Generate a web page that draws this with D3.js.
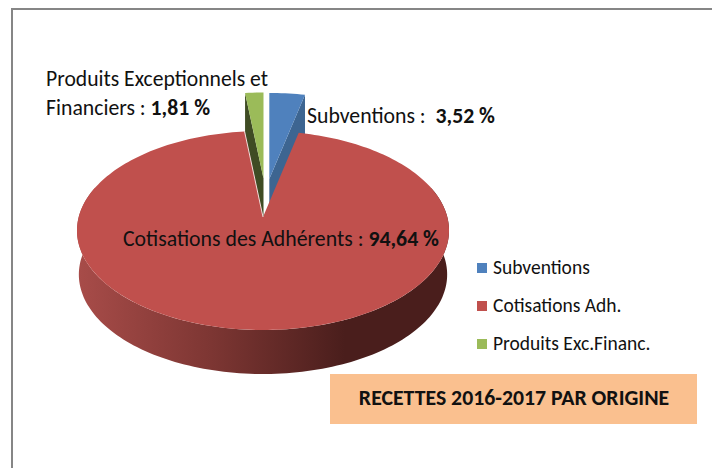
<!DOCTYPE html>
<html>
<head>
<meta charset="utf-8">
<script src="https://cdn.jsdelivr.net/npm/d3@7"></script>
<style>
html,body{margin:0;padding:0;background:#fff;}
svg{display:block;}
text{font-family:Carlito,Lato,"Open Sans",sans-serif;fill:#111;white-space:pre;}
</style>
</head>
<body>
<svg id="chart" width="712" height="468"></svg>
<script>
const categories=['Subventions','Cotisations Adh.','Produits Exc.Financ.'];
const values=[3.52,94.64,1.81];
const colors=['#4f81bd','#c0504d','#9bbb59'];
const wallColors=['#3d6591','#4a1e1c','#3f4c24'];
const titleText='RECETTES 2016-2017 PAR ORIGINE';

const svg=d3.select('#chart');
const cx=263,cy=217,depth=44;
// one point of the tilted disc, seen in perspective
const persp=-0.1357,scaleX=184.3,scaleY=97.67;
function rim(a,dx,dy){
  const x=Math.sin(a),y=-Math.cos(a),w=1+persp*y;
  return [cx+(dx||0)+scaleX*x/w,cy+(dy||0)+scaleY*y/w];
}
function arcPts(a0,a1,dx,dy){
  const n=Math.max(2,Math.ceil((a1-a0)*40));
  return d3.range(n+1).map(i=>rim(a0+(a1-a0)*i/n,dx,dy));
}
const line=d3.line();
const pie=d3.pie().sort(null).value(d=>d)(values);

// the frame only shows on the top and left, cut by the picture edge
svg.append('path').attr('fill','none').attr('stroke','#868686').attr('stroke-width',2)
  .attr('d','M712,9H12V468');

const grad=svg.append('defs').append('linearGradient').attr('id','wall')
  .attr('gradientUnits','userSpaceOnUse').attr('x1',77).attr('x2',345).attr('y1',0).attr('y2',0);
grad.append('stop').attr('offset',0).attr('stop-color','#a84c49');
grad.append('stop').attr('offset',0.5).attr('stop-color','#7d3633');
grad.append('stop').attr('offset',1).attr('stop-color','#4a1e1c');

// exploded slices, drawn first so the red one covers their lower part
const shifts=[[6.3,-38],null,[0.5,-38.5]];
[0,2].forEach(i=>{
  const p=pie[i],[dx,dy]=shifts[i];
  const cutA=i===0?p.endAngle:p.startAngle;
  const top=rim(cutA,dx,dy);
  svg.append('path').attr('fill',wallColors[i]).attr('d',line([
    top,[top[0],top[1]+depth],[cx+dx,cy+dy+depth],[cx+dx,cy+dy]
  ])+'Z');
  svg.append('path').attr('fill',colors[i])
    .attr('d',line([[cx+dx,cy+dy],...arcPts(p.startAngle,p.endAngle,dx,dy)])+'Z');
});

// red slice: side wall then top face
const red=pie[1];
const frontTop=arcPts(Math.PI*0.4,Math.PI*1.6,0,0);
const frontBottom=arcPts(Math.PI*0.4,Math.PI*1.6,0,depth).reverse().map(q=>[cx+(q[0]-cx)*0.99,q[1]]);
svg.append('path').attr('fill','url(#wall)').attr('d',line([...frontTop,...frontBottom])+'Z');
svg.append('path').attr('fill',colors[1])
  .attr('d',line([[cx,cy],...arcPts(red.startAngle,red.endAngle,0,0)])+'Z');
svg.append('path').attr('fill','none').attr('stroke','#f4dcdb').attr('stroke-width',1)
  .attr('d',line([rim(red.endAngle),[cx,cy]]));

// data labels
function label(x,y,parts,width){
  const t=svg.append('text').attr('x',x).attr('y',y).attr('font-size',21.5)
    .attr('textLength',width).attr('lengthAdjust','spacingAndGlyphs');
  parts.forEach(p=>t.append('tspan').attr('font-weight',p[1]?'700':'400').text(p[0]));
}
label(46,86,[['Produits Exceptionnels et']],222);
label(46,115,[['Financiers : '],['1,81 %',1]],164);
label(307,123,[['Subventions :  '],['3,52 %',1]],188);
label(123,246,[['Cotisations des Adhérents : '],['94,64 %',1]],316);

// legend
const legendY=d3.scalePoint().domain(categories).range([268,344]);
const legend=svg.selectAll('.leg').data(categories).enter().append('g').attr('class','leg')
  .attr('transform',d=>`translate(477,${legendY(d)})`);
legend.append('rect').attr('x',0).attr('y',-5).attr('width',10).attr('height',10)
  .attr('fill',(d,i)=>colors[i]);
legend.append('text').attr('x',16).attr('y',6).attr('font-size',19.5).text(d=>d);

// title banner
svg.append('rect').attr('x',330).attr('y',374).attr('width',367).attr('height',50).attr('fill','#fac08f');
svg.append('text').attr('x',514).attr('y',405).attr('text-anchor','middle')
  .attr('font-size',21.8).attr('font-weight','700').text(titleText);
</script>
</body>
</html>
